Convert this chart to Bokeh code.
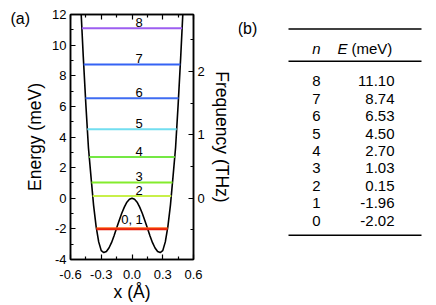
import numpy as np
from bokeh.plotting import figure
from bokeh.models import (Range1d, LinearAxis, FixedTicker, PrintfTickFormatter, Title,
                          ColumnDataSource, CustomLabelingPolicy)
from bokeh.layouts import row
from bokeh.embed import file_html
from bokeh.resources import INLINE
from bokeh.core.properties import value

# ---------------- data ----------------
# double-well potential, right half (x >= 0); the left half is its mirror image
pot_x_half = [0.000, 0.025, 0.050, 0.075, 0.100, 0.125, 0.150, 0.175, 0.200, 0.225,
              0.250, 0.275, 0.300, 0.325, 0.350, 0.375, 0.400, 0.425, 0.450, 0.475, 0.500]
pot_E_half = [0.00, -0.07, -0.26, -0.58, -0.98, -1.45, -1.95, -2.45, -2.90, -3.25,
              -3.48, -3.55, -3.42, -2.85, -1.85, -0.45, 1.40, 3.30, 6.10, 9.20, 12.60]

level_n = [0, 1, 2, 3, 4, 5, 6, 7, 8]
level_E = [-2.02, -1.96, 0.15, 1.03, 2.70, 4.50, 6.53, 8.74, 11.10]
level_E_text = ["-2.02", "-1.96", "0.15", "1.03", "2.70", "4.50", "6.53", "8.74", "11.10"]
level_colors = ["#e8200c", "#ff6a1a", "#c8f04a", "#84ec2c", "#74e844", "#72def0",
                "#3f6cf2", "#3563f4", "#9d5ef0"]
level_tags = ["0, 1", "2", "3", "4", "5", "6", "7", "8"]
level_tag_E = [-1.96, 0.15, 1.03, 2.70, 4.50, 6.53, 8.74, 11.10]

x_ticks = [-0.6, -0.3, 0.0, 0.3, 0.6]
x_minor = [-0.45, -0.15, 0.15, 0.45]
E_ticks = [-4, -2, 0, 2, 4, 6, 8, 10, 12]
E_minor = [-3, -1, 1, 3, 5, 7, 9, 11]
f_ticks = [0, 1, 2]
f_minor = [-0.5, 0.5, 1.5, 2.5]
MEV_PER_THZ = 4.1357

FONT = "Liberation Sans"
H = 304

# ---------------- panel (a) ----------------
p1 = figure(width=238, height=H, x_range=Range1d(-0.6, 0.6), y_range=Range1d(-4, 12),
            output_backend="svg", toolbar_location=None,
            x_axis_location=None, y_axis_location=None,
            min_border_left=70, min_border_right=45, min_border_top=14, min_border_bottom=H - 259)
p1.grid.visible = False
p1.outline_line_color = "black"
p1.outline_line_width = 1.5
p1.background_fill_color = "white"
p1.border_fill_color = "white"
p1.extra_y_ranges = {"thz": Range1d(-4 / MEV_PER_THZ, 12 / MEV_PER_THZ)}

# panel tag "(a)" as a left-aligned title pulled towards the frame
p1.title = Title(text="(a)", align="left", offset=-60, standoff=-33,
                 text_font=FONT, text_font_size="16px", text_font_style="normal",
                 text_color="black")


def style_axis(ax, ticks, minor, fmt, show_labels=True):
    ax.ticker = FixedTicker(ticks=ticks, minor_ticks=minor)
    ax.formatter = PrintfTickFormatter(format=fmt)
    ax.major_tick_in = 5
    ax.major_tick_out = 0
    ax.minor_tick_in = 3
    ax.minor_tick_out = 0
    ax.axis_line_width = 1.5
    ax.axis_line_color = "black"
    ax.major_tick_line_width = 1.2
    ax.minor_tick_line_width = 1.2
    ax.major_tick_line_color = "black"
    ax.minor_tick_line_color = "black"
    ax.major_label_text_font = FONT
    ax.major_label_text_color = "black"
    ax.major_label_text_font_size = "13px" if show_labels else "1px"
    ax.major_label_standoff = 4 if show_labels else 0
    ax.axis_label_text_font = FONT
    ax.axis_label_text_font_style = "normal"
    ax.axis_label_text_font_size = "17.5px"
    ax.axis_label_text_color = "black"


left = LinearAxis(axis_label="Energy (meV)")
style_axis(left, E_ticks, E_minor, "%d")
left.axis_label_standoff = 4
p1.add_layout(left, "left")

right = LinearAxis(y_range_name="thz", axis_label="Frequency (THz)")
style_axis(right, f_ticks, f_minor, "%d")
right.axis_label_standoff = 4
p1.add_layout(right, "right")

bottom = LinearAxis(axis_label="x (Å)")
style_axis(bottom, x_ticks, x_minor, "%.1f")
bottom.major_label_standoff = 10
bottom.axis_label_standoff = 0
p1.add_layout(bottom, "below")

top = LinearAxis()
style_axis(top, x_ticks, x_minor, "%.1f", show_labels=False)
top.major_label_policy = CustomLabelingPolicy(code="""
for (const i of Array.from(indices)) { indices.unset(i) }
return indices
""")
p1.add_layout(top, "above")

# potential curve
xh = np.array(pot_x_half)
eh = np.array(pot_E_half)
pot_x = np.concatenate([-xh[::-1], xh[1:]])
pot_E = np.concatenate([eh[::-1], eh[1:]])
p1.line(pot_x, pot_E, line_color="black", line_width=1.6)

# energy levels, ending on the outer wall of the well
imin = int(np.argmin(eh))
outer_x = xh[imin:]
outer_E = eh[imin:]
half_w = [float(np.interp(e, outer_E, outer_x)) for e in level_E]
order = [1, 0, 2, 3, 4, 5, 6, 7, 8]
lv = ColumnDataSource(dict(x0=[-half_w[i] for i in order], x1=[half_w[i] for i in order],
                           y=[level_E[i] for i in order], c=[level_colors[i] for i in order]))
p1.segment(x0="x0", y0="y", x1="x1", y1="y", color="c", line_width=2, source=lv)

tag_x = [0.0 if "," in t else 0.07 for t in level_tags]
p1.text(x=tag_x, y=level_tag_E, text=level_tags, text_align="center", text_baseline="bottom",
        text_font=value(FONT), text_font_size="13px", text_color="black", y_offset=-1)

# ---------------- panel (b): table ----------------
p2 = figure(width=190, height=H, x_range=Range1d(238, 428), y_range=Range1d(H, 0),
            output_backend="svg", toolbar_location=None,
            x_axis_location=None, y_axis_location=None,
            min_border_left=0, min_border_right=0, min_border_top=0, min_border_bottom=0)
p2.grid.visible = False
p2.outline_line_color = None
p2.background_fill_color = "white"
p2.border_fill_color = "white"

rule_y = [18, 58, 274]
p2.segment(x0=[288] * 3, y0=rule_y, x1=[421] * 3, y1=rule_y, line_color="black", line_width=1.5)

p2.text(x=[247], y=[17], text=["(b)"], text_align="center", text_baseline="middle",
        text_font=value(FONT), text_font_size="16px", text_color="black")
p2.text(x=[316], y=[42], text=["n"], text_align="center", text_baseline="middle",
        text_font=value(FONT), text_font_style="italic", text_font_size="15px", text_color="black")
p2.text(x=[337], y=[42], text=["E"], text_align="left", text_baseline="middle",
        text_font=value(FONT), text_font_style="italic", text_font_size="15px", text_color="black")
p2.text(x=[351], y=[42], text=["(meV)"], text_align="left", text_baseline="middle",
        text_font=value(FONT), text_font_size="15px", text_color="black")

rows_n = [str(n) for n in level_n][::-1]
rows_E = level_E_text[::-1]
row_y = [83 + 21.6 * k for k in range(len(rows_n))]
tb = ColumnDataSource(dict(n=rows_n, e=rows_E, y=row_y))
p2.text(x=316, y="y", text="n", source=tb, text_align="center", text_baseline="middle",
        text_font=value(FONT), text_font_size="15px", text_color="black")
p2.text(x=394, y="y", text="e", source=tb, text_align="right", text_baseline="middle",
        text_font=value(FONT), text_font_size="15px", text_color="black")

layout = row(p1, p2)
open("out.html", "w").write(file_html(layout, INLINE))
